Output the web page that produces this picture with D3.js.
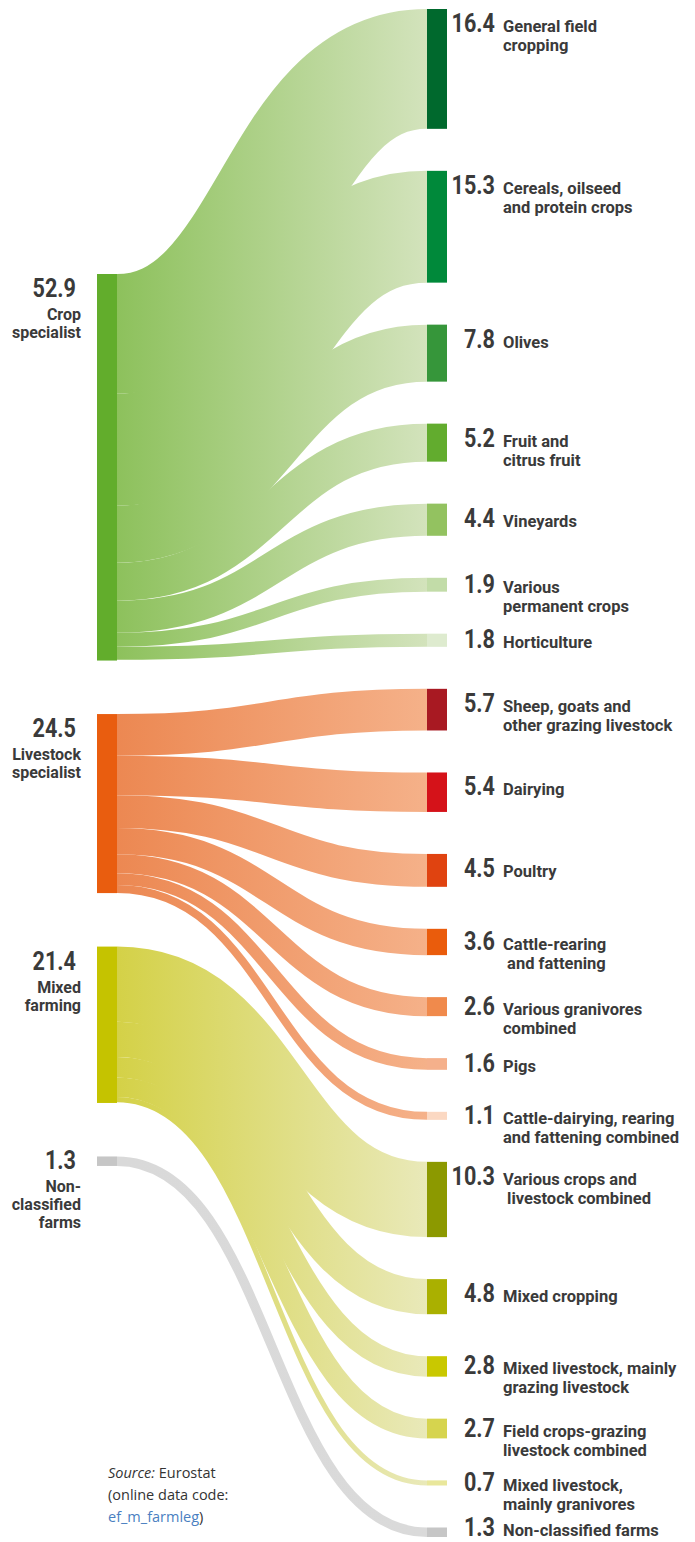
<!DOCTYPE html>
<html>
<head>
<meta charset="utf-8">
<script src="https://cdn.jsdelivr.net/npm/d3@7"></script>
<style>
  body { margin: 0; background: #fff; }
  svg { display: block; }
  text { fill: #3a3a3a; font-family: Roboto, "Open Sans", sans-serif; font-weight: 700; }
  .src { font-family: "Open Sans", sans-serif; font-weight: 400; font-size: 14.5px; fill: #333; }
</style>
</head>
<body>
<div id="chart"></div>
<script>
// farm types (left) and their values
const sources = ["Crop specialist", "Livestock specialist", "Mixed farming", "Non-classified farms"];
const sourceValues = [52.9, 24.5, 21.4, 1.3];
const sourceLabels = [["Crop", "specialist"], ["Livestock", "specialist"], ["Mixed", "farming"], ["Non-", "classified", "farms"]];

// detailed types (right), which left node they come from
const targets = [
  "General field cropping", "Cereals, oilseed and protein crops", "Olives", "Fruit and citrus fruit",
  "Vineyards", "Various permanent crops", "Horticulture",
  "Sheep, goats and other grazing livestock", "Dairying", "Poultry", "Cattle-rearing and fattening",
  "Various granivores combined", "Pigs", "Cattle-dairying, rearing and fattening combined",
  "Various crops and livestock combined", "Mixed cropping", "Mixed livestock, mainly grazing livestock",
  "Field crops-grazing livestock combined", "Mixed livestock, mainly granivores", "Non-classified farms"
];
const targetValues = [16.4, 15.3, 7.8, 5.2, 4.4, 1.9, 1.8, 5.7, 5.4, 4.5, 3.6, 2.6, 1.6, 1.1, 10.3, 4.8, 2.8, 2.7, 0.7, 1.3];
const targetSource = [0, 0, 0, 0, 0, 0, 0, 1, 1, 1, 1, 1, 1, 1, 2, 2, 2, 2, 2, 3];
const targetLabels = [
  ["General field", "cropping"], ["Cereals, oilseed", "and protein crops"], ["Olives"], ["Fruit and", "citrus fruit"],
  ["Vineyards"], ["Various", "permanent crops"], ["Horticulture"],
  ["Sheep, goats and", "other grazing livestock"], ["Dairying"], ["Poultry"], ["Cattle-rearing", " and fattening"],
  ["Various granivores", "combined"], ["Pigs"], ["Cattle-dairying, rearing", "and fattening combined"],
  ["Various crops and", " livestock combined"], ["Mixed cropping"], ["Mixed livestock, mainly", "grazing livestock"],
  ["Field crops-grazing", "livestock combined"], ["Mixed livestock,", "mainly granivores"], ["Non-classified farms"]
];

// colours
const sourceColors = ["#62ad2c", "#e95d0f", "#c5c300", "#c6c6c6"];
const linkColors = [["#8dc15c", "#d3e3bc"], ["#ec8852", "#f5b189"], ["#d4d147", "#e9e9b9"], ["#d9d9d9", "#dadada"]];
const targetColors = [
  "#00692d", "#00893a", "#36963a", "#62ac2e", "#93c260", "#c2dca8", "#deebcf",
  "#a81922", "#d51219", "#e04310", "#ea5c0c", "#f08a4c", "#f5b08b", "#fbd8c2",
  "#8c9900", "#aab000", "#c9c800", "#d6d44e", "#e9e79b", "#c6c6c6"
];

const width = 695, height = 1542;
const nodeW = 20;
const xLeft = 97, xRight = 427;
const rightTop = 9, rightBottom = 1537, rightGap = 42;
const leftTop = 274, leftGap = 53.5;

const total = d3.sum(targetValues);
const y = d3.scaleLinear()
  .domain([0, total])
  .range([0, rightBottom - rightTop - rightGap * (targetValues.length - 1)]);

const svg = d3.select("#chart").append("svg")
  .attr("width", width)
  .attr("height", height);

// node positions
let cy = leftTop;
const leftNodes = sources.map((s, i) => {
  const n = { name: s, value: sourceValues[i], y0: cy, y1: cy + y(sourceValues[i]), offset: cy };
  cy = n.y1 + leftGap;
  return n;
});
cy = rightTop;
const rightNodes = targets.map((t, i) => {
  const n = { name: t, value: targetValues[i], src: targetSource[i], y0: cy, y1: cy + y(targetValues[i]) };
  cy = n.y1 + rightGap;
  return n;
});

// links, stacked in target order at each left node
const links = rightNodes.map(t => {
  const s = leftNodes[t.src];
  const w = y(t.value);
  const l = { src: t.src, width: w, ys: s.offset + w / 2, yt: (t.y0 + t.y1) / 2 };
  s.offset += w;
  return l;
});

// gradients
const defs = svg.append("defs");
linkColors.forEach((c, i) => {
  const g = defs.append("linearGradient")
    .attr("id", "grad" + i)
    .attr("gradientUnits", "userSpaceOnUse")
    .attr("x1", xLeft + nodeW).attr("x2", xRight)
    .attr("y1", 0).attr("y2", 0);
  g.append("stop").attr("offset", 0).attr("stop-color", c[0]);
  g.append("stop").attr("offset", 1).attr("stop-color", c[1]);
});

const linkGen = d3.linkHorizontal();
svg.append("g").selectAll("path")
  .data(links)
  .join("path")
  .attr("d", d => linkGen({ source: [xLeft + nodeW, d.ys], target: [xRight, d.yt] }))
  .attr("fill", "none")
  .attr("stroke", d => `url(#grad${d.src})`)
  .attr("stroke-width", d => d.width);

// nodes
svg.append("g").selectAll("rect")
  .data(leftNodes)
  .join("rect")
  .attr("x", xLeft).attr("y", d => d.y0)
  .attr("width", nodeW).attr("height", d => d.y1 - d.y0)
  .attr("fill", (d, i) => sourceColors[i]);

svg.append("g").selectAll("rect")
  .data(rightNodes)
  .join("rect")
  .attr("x", xRight).attr("y", d => d.y0)
  .attr("width", nodeW).attr("height", d => d.y1 - d.y0)
  .attr("fill", (d, i) => targetColors[i]);

// baseline of the number next to a node (kept inside the page)
const base = d => Math.min(d.y0 + 23, (d.y0 + d.y1) / 2 + 8, height - 6);
const fmt = d3.format(".1f");

// left labels
const lg = svg.append("g").selectAll("g")
  .data(leftNodes)
  .join("g");
lg.append("text")
  .attr("transform", d => `translate(76,${base(d)}) scale(0.83,1)`)
  .attr("text-anchor", "end")
  .style("font-size", "26px")
  .text(d => fmt(d.value));
lg.each(function (d, i) {
  sourceLabels[i].forEach((line, j) => {
    d3.select(this).append("text")
      .attr("x", 81)
      .attr("y", base(d) + 23 + j * 18)
      .attr("text-anchor", "end")
      .style("font-size", "16px")
      .text(line);
  });
});

// right labels
const rg = svg.append("g").selectAll("g")
  .data(rightNodes)
  .join("g");
rg.append("text")
  .attr("transform", d => `translate(495,${base(d)}) scale(0.83,1)`)
  .attr("text-anchor", "end")
  .style("font-size", "26px")
  .text(d => fmt(d.value));
rg.each(function (d, i) {
  targetLabels[i].forEach((line, j) => {
    d3.select(this).append("text")
      .attr("x", 503)
      .attr("y", base(d) + j * 19)
      .attr("xml:space", "preserve")
      .style("white-space", "pre")
      .style("font-size", "16.5px")
      .text(line);
  });
});

// source note
const note = svg.append("g").attr("transform", "translate(108,1478)");
const t1 = note.append("text").attr("class", "src");
t1.append("tspan").style("font-style", "italic").text("Source:");
t1.append("tspan").text(" Eurostat");
note.append("text").attr("class", "src").attr("y", 22).text("(online data code:");
const t3 = note.append("text").attr("class", "src").attr("y", 44);
t3.append("tspan").style("fill", "#4a7fc1").text("ef_m_farmleg");
t3.append("tspan").text(")");
</script>
</body>
</html>
